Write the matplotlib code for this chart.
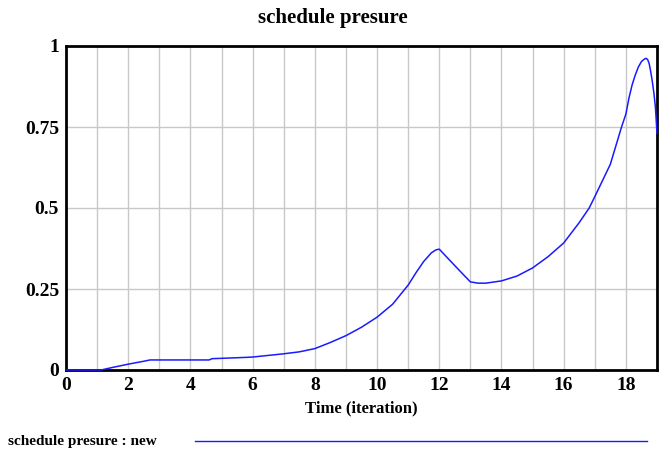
import matplotlib.pyplot as plt
from matplotlib.lines import Line2D

# tiempo (iteraciones) y valores
tiempo = [0, 1, 1.125, 1.5, 2, 2.5, 2.7, 4.6, 4.7, 5, 5.8, 6, 7, 7.5, 8, 8.5, 9,
          9.5, 10, 10.5, 11, 11.25, 11.5, 11.75, 11.9, 12, 12.5, 13, 13.25, 13.5, 14,
          14.5, 15, 15.5, 16, 16.5, 16.82, 17, 17.5, 17.86, 18, 18.1, 18.2, 18.3,
          18.4, 18.5, 18.6, 18.65, 18.7, 18.75, 18.8, 18.85, 18.9, 18.95, 19]
presion = [0, 0, 0, 0.008, 0.018, 0.027, 0.031, 0.031, 0.035, 0.036, 0.039, 0.040,
           0.050, 0.056, 0.066, 0.085, 0.106, 0.132, 0.163, 0.203, 0.262, 0.30,
           0.335, 0.362, 0.371, 0.373, 0.322, 0.272, 0.268, 0.268, 0.275, 0.29,
           0.315, 0.35, 0.392, 0.455, 0.5, 0.535, 0.635, 0.75, 0.79, 0.84, 0.88,
           0.91, 0.935, 0.952, 0.96, 0.962, 0.958, 0.945, 0.92, 0.89, 0.855, 0.81,
           0.73]

xticks = list(range(0, 19, 2))
yticks = [0, 0.25, 0.5, 0.75, 1]
yticklabels = ["0", "0.25", "0.5", "0.75", "1"]

plt.rcParams['font.family'] = ['Liberation Serif', 'DejaVu Serif']
plt.rcParams['font.weight'] = 'bold'

fig = plt.figure(figsize=(6.65, 4.51), dpi=100)
ax = fig.add_axes([66 / 665, 81 / 451, 591 / 665, 324 / 451])

ax.plot(tiempo, presion, color="#1a1aff", linewidth=1.1, zorder=5, clip_on=False)

ax.set_xlim(0, 19)
ax.set_ylim(0, 1)
ax.set_xticks(range(0, 20))
ax.set_xticklabels([str(t) if t in xticks else "" for t in range(0, 20)])
ax.set_yticks(yticks)
ax.set_yticklabels(yticklabels)
ax.grid(True, color="#c8c8c8", linewidth=1)
ax.tick_params(length=0, labelsize=14, pad=5)
for lab in ax.get_xticklabels() + ax.get_yticklabels():
    lab.set_fontweight('bold')
for s in ax.spines.values():
    s.set_linewidth(2)
    s.set_color("black")

ax.set_xlabel("Time (iteration)", fontsize=12, fontweight='bold', labelpad=5)
fig.text(0.5, 1 - 18 / 451, "schedule presure", ha="center", va="center",
         fontsize=15, fontweight='bold')

# leyenda inferior
fig.text(8 / 665, 1 - 441 / 451, "schedule presure : new", ha="left", va="center",
         fontsize=11, fontweight='bold')
fig.add_artist(Line2D([195 / 665, 647 / 665], [1 - 441 / 451, 1 - 441 / 451],
                      color="#1a1aff", linewidth=1))

fig.savefig("out.png", dpi=100)
